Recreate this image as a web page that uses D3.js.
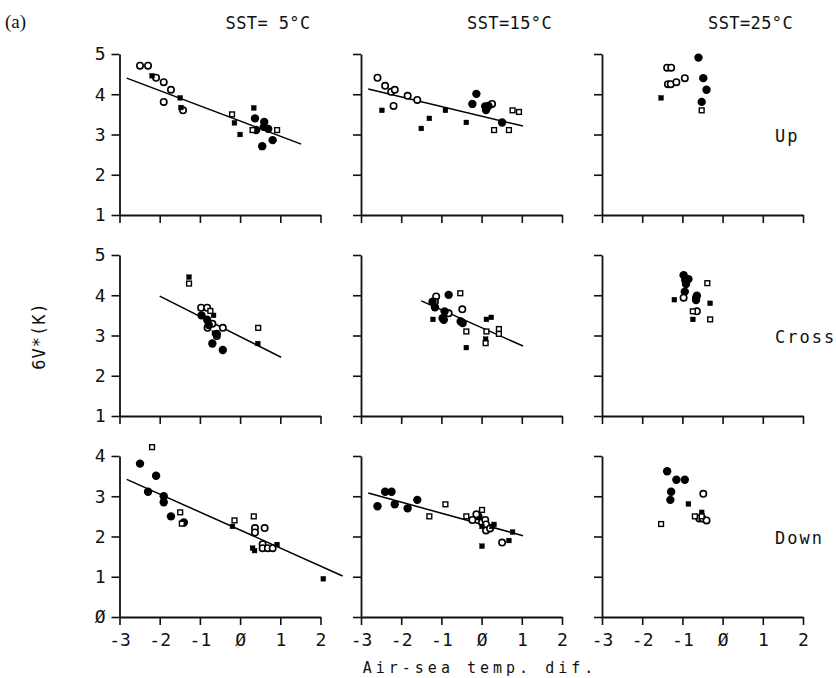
<!DOCTYPE html>
<html>
<head>
<meta charset="utf-8">
<script src="https://cdn.jsdelivr.net/npm/d3@7"></script>
<style>
  body { margin: 0; background: #fff; }
  text { font-family: "DejaVu Sans Mono", monospace; fill: #111; }
</style>
</head>
<body>
<div id="chart"></div>
<script>
// column / row headings and ticks
var sstLabels = ["SST= 5\u00b0C", "SST=15\u00b0C", "SST=25\u00b0C"];
var rowLabels = ["Up", "Cross", "Down"];
var xTicks = [-3, -2, -1, 0, 1, 2];
var yTicksUpper = [1, 2, 3, 4, 5];
var yTicksLower = [0, 1, 2, 3, 4];

// points: [air-sea temp dif, value, marker]  fc=filled circle, oc=open circle, fs=filled square, os=open square
var up5 = [
  [-2.49, 4.71, "oc"], [-2.29, 4.71, "oc"], [-2.09, 4.41, "oc"], [-1.90, 4.30, "oc"], [-1.72, 4.11, "oc"],
  [-1.90, 3.81, "oc"], [-1.42, 3.60, "oc"],
  [-2.19, 4.46, "fs"], [-1.49, 3.91, "fs"], [-1.47, 3.67, "fs"], [-0.14, 3.29, "fs"], [0.00, 3.00, "fs"], [0.34, 3.66, "fs"],
  [-0.20, 3.50, "os"], [0.31, 3.11, "os"], [0.92, 3.11, "os"],
  [0.37, 3.40, "fc"], [0.40, 3.11, "fc"], [0.60, 3.31, "fc"], [0.59, 3.19, "fc"], [0.70, 3.14, "fc"],
  [0.55, 2.71, "fc"], [0.81, 2.86, "fc"]
];
var up15 = [
  [-2.59, 4.41, "oc"], [-2.40, 4.21, "oc"], [-2.25, 4.06, "oc"], [-2.16, 4.11, "oc"], [-2.19, 3.71, "oc"],
  [-1.84, 3.96, "oc"], [-1.60, 3.86, "oc"], [0.26, 3.76, "oc"],
  [-2.48, 3.60, "fs"], [-1.30, 3.40, "fs"], [-1.50, 3.15, "fs"], [-0.90, 3.60, "fs"], [-0.38, 3.30, "fs"],
  [-0.13, 4.01, "fc"], [-0.23, 3.76, "fc"], [0.09, 3.70, "fc"], [0.11, 3.61, "fc"], [0.17, 3.71, "fc"], [0.51, 3.30, "fc"],
  [0.31, 3.11, "os"], [0.68, 3.11, "os"], [0.77, 3.60, "os"], [0.93, 3.56, "os"]
];
var up25 = [
  [-1.38, 4.66, "oc"], [-1.28, 4.66, "oc"], [-1.36, 4.25, "oc"], [-1.29, 4.25, "oc"], [-1.15, 4.30, "oc"], [-0.94, 4.40, "oc"],
  [-1.53, 3.91, "fs"],
  [-0.52, 3.60, "os"],
  [-0.60, 4.91, "fc"], [-0.48, 4.40, "fc"], [-0.40, 4.11, "fc"], [-0.52, 3.81, "fc"]
];
var cross5 = [
  [-1.27, 4.45, "fs"], [-0.66, 3.50, "fs"], [-0.64, 3.06, "fs"], [0.44, 2.80, "fs"],
  [-1.27, 4.29, "os"], [0.45, 3.19, "os"], [-0.74, 3.61, "os"],
  [-0.97, 3.69, "oc"], [-0.82, 3.69, "oc"], [-0.81, 3.19, "oc"], [-0.69, 3.29, "oc"], [-0.58, 2.99, "oc"], [-0.43, 3.19, "oc"],
  [-0.96, 3.50, "fc"], [-0.82, 3.39, "fc"], [-0.78, 3.26, "fc"], [-0.58, 3.04, "fc"], [-0.69, 2.80, "fc"], [-0.43, 2.64, "fc"]
];
var cross15 = [
  [-1.21, 3.40, "fs"], [-0.38, 2.70, "fs"], [0.12, 3.40, "fs"], [0.24, 3.45, "fs"], [0.10, 2.91, "fs"],
  [-0.53, 4.05, "os"], [-0.38, 3.10, "os"], [0.12, 3.10, "os"], [0.10, 2.81, "os"], [0.43, 3.16, "os"], [0.43, 3.04, "os"],
  [-1.13, 3.97, "oc"], [-1.16, 3.84, "oc"], [-0.82, 3.55, "oc"], [-0.48, 3.65, "oc"],
  [-1.22, 3.84, "fc"], [-1.16, 3.70, "fc"], [-0.92, 3.60, "fc"], [-0.82, 4.01, "fc"], [-0.97, 3.43, "fc"],
  [-0.94, 3.39, "fc"], [-0.52, 3.35, "fc"], [-0.47, 3.31, "fc"]
];
var cross25 = [
  [-0.97, 4.50, "fc"], [-0.93, 4.38, "fc"], [-0.85, 4.40, "fc"], [-0.91, 4.28, "fc"], [-0.94, 4.09, "fc"],
  [-0.64, 3.99, "fc"], [-0.66, 3.93, "fc"], [-0.66, 3.88, "fc"],
  [-0.97, 3.94, "oc"], [-0.64, 3.60, "oc"],
  [-0.38, 4.30, "os"], [-0.74, 3.60, "os"], [-0.31, 3.40, "os"],
  [-1.20, 3.89, "fs"], [-0.31, 3.80, "fs"], [-0.74, 3.40, "fs"]
];
var down5 = [
  [-2.49, 3.81, "fc"], [-2.29, 3.11, "fc"], [-2.09, 3.51, "fc"], [-1.90, 3.00, "fc"], [-1.90, 2.85, "fc"],
  [-1.72, 2.50, "fc"], [-1.40, 2.35, "fc"],
  [-2.19, 4.22, "os"], [-1.49, 2.60, "os"], [-1.45, 2.32, "os"], [-0.14, 2.40, "os"], [0.34, 2.50, "os"],
  [-0.19, 2.25, "fs"], [0.31, 1.71, "fs"], [0.36, 1.65, "fs"], [0.92, 1.80, "fs"], [2.07, 0.95, "fs"],
  [0.37, 2.21, "oc"], [0.37, 2.10, "oc"], [0.61, 2.21, "oc"], [0.56, 1.81, "oc"], [0.56, 1.71, "oc"],
  [0.69, 1.71, "oc"], [0.81, 1.71, "oc"]
];
var down15 = [
  [-2.59, 2.75, "fc"], [-2.40, 3.11, "fc"], [-2.24, 3.11, "fc"], [-2.16, 2.80, "fc"], [-1.84, 2.70, "fc"],
  [-1.60, 2.91, "fc"], [-0.08, 2.50, "fc"],
  [-1.30, 2.50, "os"], [-0.90, 2.80, "os"], [-0.38, 2.50, "os"], [0.01, 2.66, "os"],
  [-0.13, 2.55, "oc"], [-0.23, 2.41, "oc"], [0.01, 2.35, "oc"], [0.09, 2.41, "oc"], [0.11, 2.30, "oc"],
  [0.11, 2.15, "oc"], [0.21, 2.20, "oc"], [0.51, 1.85, "oc"],
  [0.01, 2.25, "fs"], [0.31, 2.30, "fs"], [0.26, 2.25, "fs"], [0.01, 1.76, "fs"], [0.68, 1.90, "fs"], [0.77, 2.11, "fs"]
];
var down25 = [
  [-1.38, 3.62, "fc"], [-1.15, 3.41, "fc"], [-0.94, 3.41, "fc"], [-1.28, 3.11, "fc"], [-1.30, 2.91, "fc"],
  [-0.85, 2.81, "fs"], [-0.52, 2.60, "fs"],
  [-0.48, 3.06, "oc"], [-0.58, 2.45, "oc"], [-0.50, 2.45, "oc"], [-0.40, 2.40, "oc"],
  [-1.53, 2.31, "os"], [-0.69, 2.50, "os"], [-0.52, 2.50, "os"]
];

// fitted lines: [[x0, y0], [x1, y1]]
var fitUp5 = [[-2.82, 4.40], [1.52, 2.76]];
var fitUp15 = [[-2.82, 4.13], [1.03, 3.21]];
var fitCross5 = [[-2.0, 3.98], [1.02, 2.46]];
var fitCross15 = [[-1.50, 3.86], [1.03, 2.74]];
var fitDown5 = [[-2.82, 3.42], [2.55, 1.02]];
var fitDown15 = [[-2.82, 3.08], [1.03, 2.02]];

var panelData = [
  [up5, up15, up25],
  [cross5, cross15, cross25],
  [down5, down15, down25]
];
var panelFits = [
  [fitUp5, fitUp15, null],
  [fitCross5, fitCross15, null],
  [fitDown5, fitDown15, null]
];

var svgWidth = 836;
var svgHeight = 678;
var colLeft = [119.5, 361, 602];
var rowBottom = [215, 416, 617];
var plotW = 201;
var plotH = 161;

var svg = d3.select("#chart")
  .append("svg")
  .attr("width", svgWidth)
  .attr("height", svgHeight);

var x = d3.scaleLinear().domain([-3, 2]).range([0, plotW]);

var tickFmt = function(d) { return d === 0 ? "\u00d8" : String(d); };

panelData.forEach(function(row, r) {
  var y = d3.scaleLinear()
    .domain(r === 2 ? [0, 4] : [1, 5])
    .range([plotH, 0]);
  var yTicks = r === 2 ? yTicksLower : yTicksUpper;

  row.forEach(function(pts, c) {
    var g = svg.append("g")
      .attr("transform", `translate(${colLeft[c]}, ${rowBottom[r] - plotH})`);

    var bottomAxis = d3.axisBottom(x)
      .tickValues(xTicks)
      .tickSize(8)
      .tickSizeOuter(0)
      .tickPadding(8)
      .tickFormat(r === 2 ? tickFmt : "");
    var leftAxis = d3.axisLeft(y)
      .tickValues(yTicks)
      .tickSize(8)
      .tickSizeOuter(0)
      .tickPadding(6)
      .tickFormat(c === 0 ? tickFmt : "");

    var xa = g.append("g")
      .attr("transform", `translate(0, ${plotH})`)
      .call(bottomAxis);
    var ya = g.append("g").call(leftAxis);

    [xa, ya].forEach(function(a) {
      a.select(".domain").attr("stroke", "#111").attr("stroke-width", 1.8);
      a.selectAll(".tick line").attr("stroke", "#111").attr("stroke-width", 1.6);
      a.selectAll(".tick text")
        .attr("font-family", "DejaVu Sans Mono")
        .attr("font-size", "18px")
        .attr("fill", "#111");
    });

    var fit = panelFits[r][c];
    if (fit) {
      g.append("line")
        .attr("x1", x(fit[0][0])).attr("y1", y(fit[0][1]))
        .attr("x2", x(fit[1][0])).attr("y2", y(fit[1][1]))
        .attr("stroke", "#000")
        .attr("stroke-width", 1.5);
    }

    var circles = pts.filter(function(d) { return d[2] === "fc" || d[2] === "oc"; });
    var squares = pts.filter(function(d) { return d[2] === "fs" || d[2] === "os"; });

    g.append("g").selectAll("circle")
      .data(circles)
      .enter()
      .append("circle")
      .attr("cx", function(d) { return x(d[0]); })
      .attr("cy", function(d) { return y(d[1]); })
      .attr("r", function(d) { return d[2] === "fc" ? 4.2 : 3.2; })
      .attr("fill", function(d) { return d[2] === "fc" ? "#000" : "#fff"; })
      .attr("stroke", "#000")
      .attr("stroke-width", function(d) { return d[2] === "fc" ? 0 : 1.6; });

    g.append("g").selectAll("rect")
      .data(squares)
      .enter()
      .append("rect")
      .attr("x", function(d) { return x(d[0]) - 2.4; })
      .attr("y", function(d) { return y(d[1]) - 2.4; })
      .attr("width", 4.8)
      .attr("height", 4.8)
      .attr("fill", function(d) { return d[2] === "fs" ? "#000" : "#fff"; })
      .attr("stroke", "#000")
      .attr("stroke-width", function(d) { return d[2] === "fs" ? 0.4 : 1.4; });
  });

  svg.append("text")
    .attr("x", 775)
    .attr("y", rowBottom[r] - 73)
    .attr("font-size", "17px")
    .attr("letter-spacing", "2px")
    .text(rowLabels[r]);
});

sstLabels.forEach(function(s, c) {
  svg.append("text")
    .attr("x", colLeft[c] + 106)
    .attr("y", 29)
    .attr("font-size", "17px")
    .attr("letter-spacing", "0.4px")
    .attr("xml:space", "preserve")
    .style("white-space", "pre")
    .text(s);
});

svg.append("text")
  .attr("transform", "translate(45, 336) rotate(-90)")
  .style("text-anchor", "middle")
  .attr("font-size", "17px")
  .attr("letter-spacing", "1px")
  .text("6V*(K)");

svg.append("text")
  .attr("x", 480)
  .attr("y", 673)
  .style("text-anchor", "middle")
  .attr("font-size", "15px")
  .attr("letter-spacing", "4px")
  .text("Air-sea temp. dif.");

svg.append("text")
  .attr("x", 5)
  .attr("y", 28)
  .style("font-family", "'Liberation Serif', serif")
  .attr("font-size", "19px")
  .text("(a)");
</script>
</body>
</html>
